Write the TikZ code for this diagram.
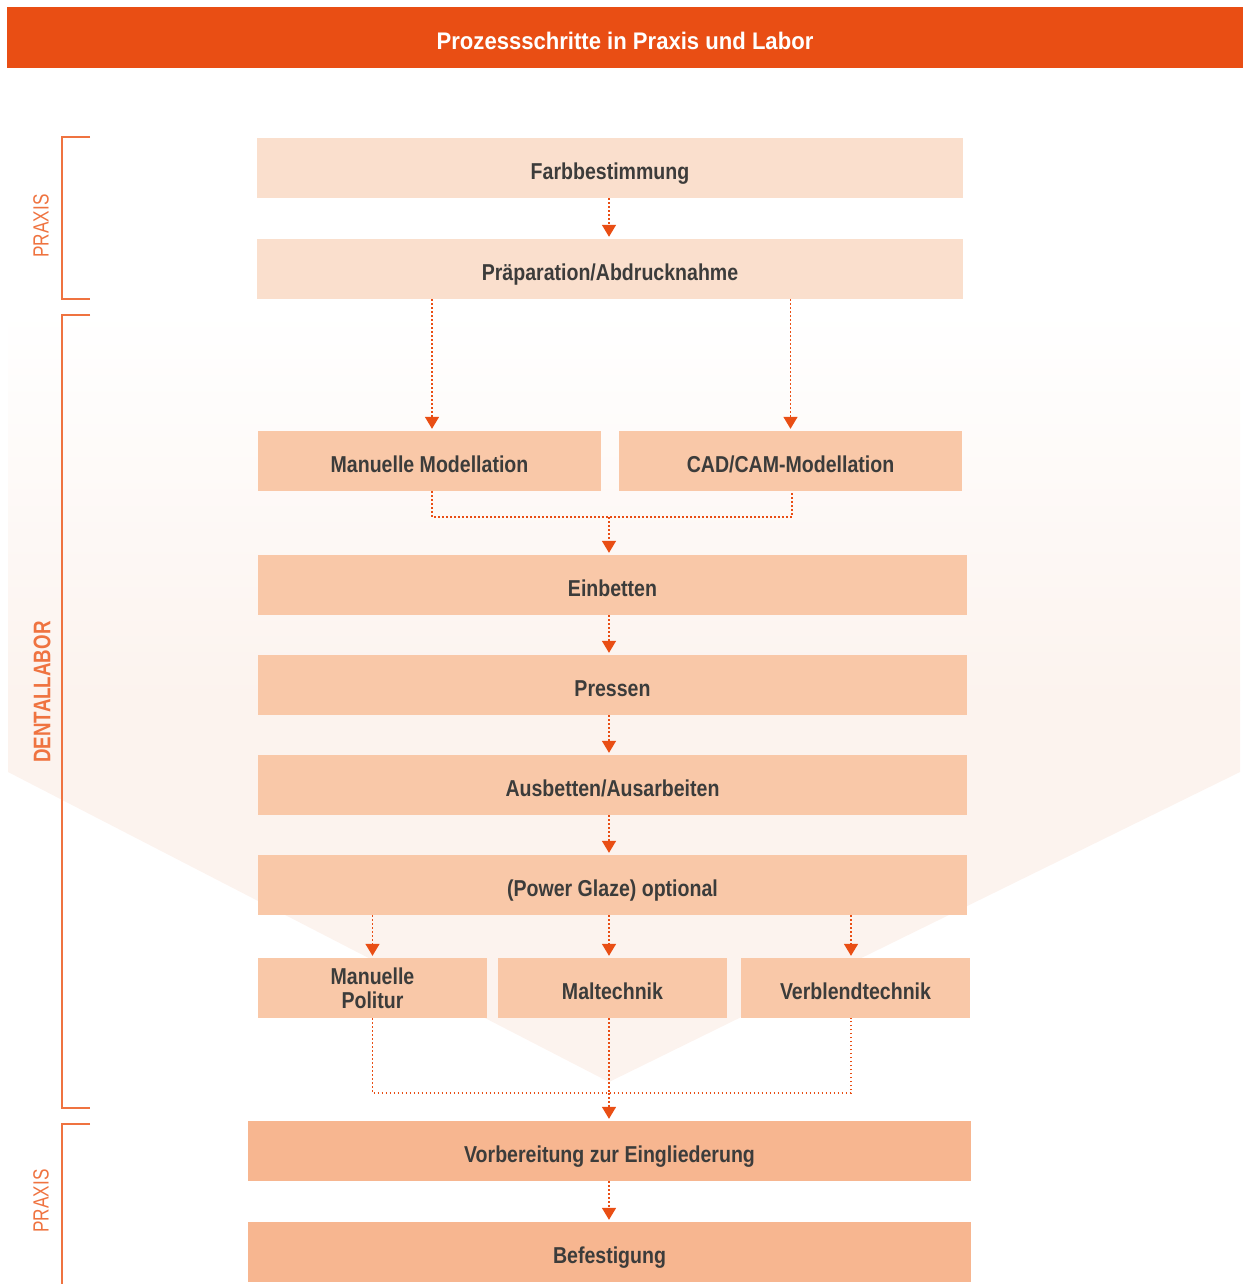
\documentclass[tikz,border=0pt]{standalone}
\usepackage{fontspec}
\setmainfont{Liberation Sans}
\newfontfamily\boxfont[FakeStretch=0.85]{Liberation Sans}
\newfontfamily\titlefont[FakeStretch=0.92]{Liberation Sans}
\newfontfamily\sidefont[FakeStretch=0.78]{Liberation Sans}
\usetikzlibrary{arrows.meta,calc}
\definecolor{titleorange}{HTML}{E94E14}
\definecolor{boxA}{HTML}{FADFCD}
\definecolor{boxB}{HTML}{F9C8A8}
\definecolor{boxC}{HTML}{F7B690}
\definecolor{textgrey}{HTML}{3C3C3B}
\definecolor{arrowc}{HTML}{E94E14}
\definecolor{bracketc}{HTML}{EF7340}
\definecolor{bgpink}{HTML}{FCF3EE}
\begin{document}
\begin{tikzpicture}[x=1pt,y=-1pt,
  stepbox/.style={rectangle, inner sep=0pt, minimum height=60pt, text=textgrey,
    font=\boxfont\bfseries\fontsize{23}{25}\selectfont, align=center},
  oneline/.style={text height=22pt, text depth=0pt},
  conn/.style={draw=arrowc, line width=1.6pt, dash pattern=on 1.6pt off 2.4pt},
  tip/.style={-{Triangle[width=14pt,length=12pt]}, shorten >=2pt},
  bracket/.style={draw=bracketc, line width=2pt},
  sidelabel/.style={rotate=90, text=bracketc, inner sep=0pt}
]
\useasboundingbox (0,0) rectangle (1243,1284);
% background chevron
\fill[bgpink] (8,700) -- (1240,700) -- (1240,772) -- (609,1082) -- (8,772) -- cycle;
\shade[top color=white, bottom color=bgpink] (8,310) rectangle (1240,700.5);
% title bar
\node[fill=titleorange, minimum width=1236pt, minimum height=61pt, inner sep=0pt,
  text=white, text height=25pt, text depth=0pt,
  font=\titlefont\bfseries\fontsize{24}{26}\selectfont] (title) at (625,37.5)
  {Prozessschritte in Praxis und Labor};
% boxes
\node[stepbox, oneline, fill=boxA, minimum width=706pt] (fb) at (610,168) {Farbbestimmung};
\node[stepbox, oneline, fill=boxA, minimum width=706pt] (pr) at (610,269) {Präparation/Abdrucknahme};
\node[stepbox, oneline, fill=boxB, minimum width=343pt] (mm) at (429.5,461) {Manuelle Modellation};
\node[stepbox, oneline, fill=boxB, minimum width=343pt] (cc) at (790.5,461) {CAD/CAM-Modellation};
\node[stepbox, oneline, fill=boxB, minimum width=709pt] (eb) at (612.5,585) {Einbetten};
\node[stepbox, oneline, fill=boxB, minimum width=709pt] (pe) at (612.5,685) {Pressen};
\node[stepbox, oneline, fill=boxB, minimum width=709pt] (au) at (612.5,785) {Ausbetten/Ausarbeiten};
\node[stepbox, oneline, fill=boxB, minimum width=709pt] (pg) at (612.5,885) {(Power Glaze) optional};
\node[stepbox, fill=boxB, minimum width=229pt] (mp) at (372.5,988) {Manuelle\\[-1pt]Politur};
\node[stepbox, oneline, fill=boxB, minimum width=229pt] (mt) at (612.5,988) {Maltechnik};
\node[stepbox, oneline, fill=boxB, minimum width=229pt] (vt) at (855.5,988) {Verblendtechnik};
\node[stepbox, oneline, fill=boxC, minimum width=723pt] (vb) at (609.5,1151) {Vorbereitung zur Eingliederung};
\node[stepbox, oneline, fill=boxC, minimum width=723pt] (bf) at (609.5,1252) {Befestigung};
% helper coordinates
\coordinate (ax) at (609,0);
\coordinate (j1) at (609,517);
\coordinate (j2) at (609,1093);
% connectors
\draw[conn,tip] (fb.south -| ax) -- (pr.north -| ax);
\draw[conn,tip] ([xshift=2.5pt]pr.south -| mm.north) -- ([xshift=2.5pt]mm.north);
\draw[conn,tip] (pr.south -| cc.north) -- (cc.north);
\draw[conn] ([xshift=2.5pt]mm.south) |- (j1) -| ([xshift=1.5pt]cc.south);
\draw[conn,tip] (j1) -- (eb.north -| ax);
\draw[conn,tip] (eb.south -| ax) -- (pe.north -| ax);
\draw[conn,tip] (pe.south -| ax) -- (au.north -| ax);
\draw[conn,tip] (au.south -| ax) -- (pg.north -| ax);
\draw[conn,tip] (pg.south -| mp.north) -- (mp.north);
\draw[conn,tip] (pg.south -| ax) -- (mt.north -| ax);
\draw[conn,tip] ([xshift=-4.5pt]pg.south -| vt.north) -- ([xshift=-4.5pt]vt.north);
\draw[conn] (mp.south) |- (j2) -| ([xshift=-4.5pt]vt.south);
\draw[conn] (mt.south -| ax) -- (j2);
\draw[conn,tip] (j2) -- (vb.north -| ax);
\draw[conn,tip] (vb.south -| ax) -- (bf.north -| ax);
% brackets
\draw[bracket] (90,137) -- (62,137) -- (62,299) -- (90,299);
\draw[bracket] (90,315) -- (62,315) -- (62,1108) -- (90,1108);
\draw[bracket] (90,1124) -- (62,1124) -- (62,1284);
% side labels
\node[sidelabel, font=\sidefont\fontsize{22}{24}\selectfont] (lp1) at (41,226) {PRAXIS};
\node[sidelabel, font=\sidefont\bfseries\fontsize{24}{26}\selectfont] (ld) at (42,692) {DENTALLABOR};
\node[sidelabel, font=\sidefont\fontsize{22}{24}\selectfont] (lp2) at (41,1201) {PRAXIS};
\end{tikzpicture}
\end{document}
